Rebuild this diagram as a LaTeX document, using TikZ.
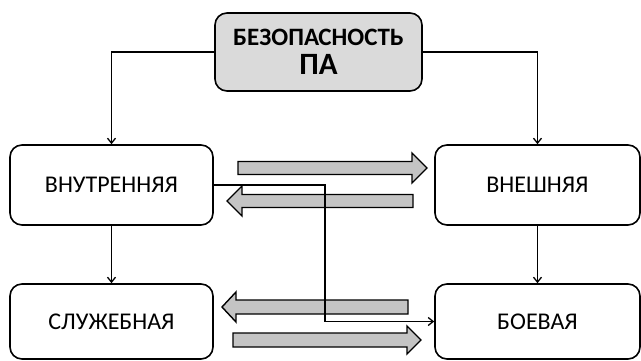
\documentclass[tikz,border=0pt]{standalone}
\usepackage{fontspec}
\setmainfont{Carlito}
\usetikzlibrary{arrows.meta}
\definecolor{topfill}{HTML}{DADADA}
\definecolor{arrfill}{HTML}{C4C4C4}
\tikzset{
  box/.style={draw=black, line width=1.6pt, rounded corners=12pt, inner sep=0pt, font=\fontsize{24}{28}\selectfont},
  conn/.style={draw=black, line width=1.3pt, -{Straight Barb[length=5pt,width=8pt]}},
  barrow/.style={draw=black, line width=1.4pt, fill=arrfill, line join=miter}
}
\begin{document}
\begin{tikzpicture}[x=1pt,y=-1pt]
\useasboundingbox (0,0) rectangle (641,361);
\node[box, fill=topfill, minimum width=207pt, minimum height=78pt, align=center, font=\fontsize{25}{29}\selectfont\bfseries] (top) at (318.5,52)
  {БЕЗОПАСНОСТЬ\\{\fontsize{31}{29}\selectfont ПА}};
\node[box, minimum width=203pt, minimum height=80pt] (int) at (111.5,185) {ВНУТРЕННЯЯ};
\node[box, minimum width=205pt, minimum height=80pt] (ext) at (537.5,185) {ВНЕШНЯЯ};
\node[box, minimum width=203pt, minimum height=75pt] (serv) at (111.5,321.5) {СЛУЖЕБНАЯ};
\node[box, minimum width=205pt, minimum height=75pt] (boev) at (537.5,321.5) {БОЕВАЯ};

\draw[conn] (top.west) -| (int.north);
\draw[conn] (top.east) -| (ext.north);
\draw[conn] (int.south) -- (serv.north);
\draw[conn] (ext.south) -- (boev.north);

% block arrows
\draw[barrow] (238,161.5) -- (412,161.5) -- (412,153) -- (427,168) -- (412,183) -- (412,174.5) -- (238,174.5) -- cycle;
\draw[barrow] (413,194.5) -- (242,194.5) -- (242,186) -- (227,201) -- (242,216) -- (242,207.5) -- (413,207.5) -- cycle;
\draw[barrow] (408,300) -- (236,300) -- (236,292) -- (222,307) -- (236,322) -- (236,314) -- (408,314) -- cycle;
\draw[barrow] (233,333) -- (407,333) -- (407,326) -- (421,340) -- (407,354) -- (407,347) -- (233,347) -- cycle;

\coordinate (bend) at (325,250);
\draw[conn] (int.east) -| (bend) |- (boev.west);
\end{tikzpicture}
\end{document}
